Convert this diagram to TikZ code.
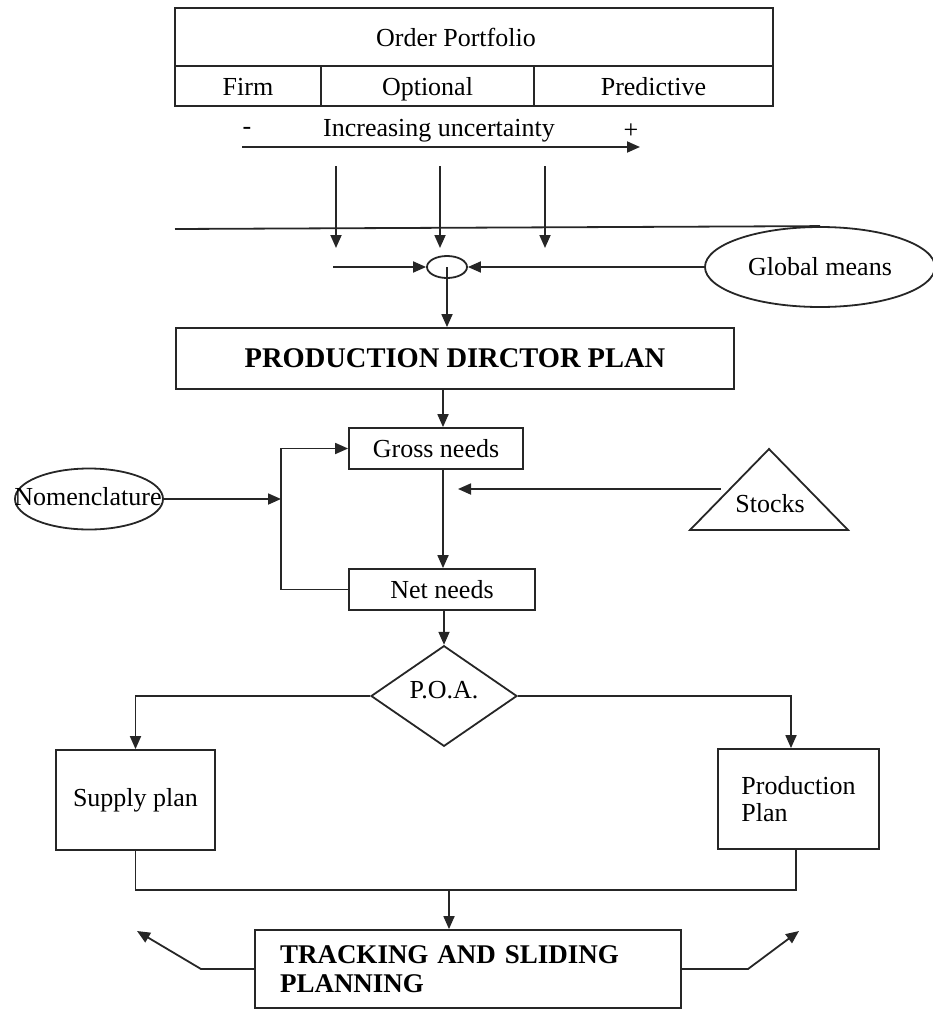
\documentclass[tikz,border=0pt]{standalone}
\usepackage{fontspec}
\setmainfont{Liberation Serif}
\usetikzlibrary{arrows.meta,shapes.geometric,calc}
\begin{document}
\begin{tikzpicture}[x=1pt,y=-1pt,
  every node/.style={font=\fontsize{26}{27}\selectfont, text=black},
  ln/.style={line width=1.8pt, draw=black!85},
  arr/.style={ln, -{Triangle[length=13pt,width=11pt]}},
  box/.style={ln, rectangle, inner sep=0pt},
  cell/.style={box, text height=18pt, text depth=0pt},
  bold/.style={font=\fontsize{27}{29}\selectfont\bfseries},
  oval/.style={ln, ellipse, inner sep=0pt}
]
\useasboundingbox (0,0) rectangle (933,1009);

% order portfolio table
\node[box, minimum width=598pt, minimum height=58pt] (head) at (474,37) {};
\node (headtxt) at (456,37) {Order Portfolio};
\node[cell, minimum width=146pt, minimum height=40pt] (firm) at (248,86) {Firm};
\node[cell, minimum width=213pt, minimum height=40pt] (opt) at (427.5,86) {Optional};
\node[cell, minimum width=239pt, minimum height=40pt] (pred) at (653.5,86) {Predictive};

% uncertainty
\node (minus) at (247,131) {-};
\node (unc) at (439,131) {Increasing uncertainty};
\node (plus) at (631,131) {+};
\coordinate (ua) at (242,147);
\coordinate (ub) at (640,147);
\draw[arr] (ua) -- (ub);

% vertical arrows
\foreach \i/\x in {1/336,2/440,3/545}{
  \coordinate (va\i) at (\x,166);
  \coordinate (vb\i) at (\x,248);
  \draw[arr] (va\i) -- (vb\i);
}

% global means and junction
\node[oval, minimum width=230pt, minimum height=80pt] (gm) at (820,267) {Global means};
\coordinate (hl) at (175,229);
\draw[ln] (hl) -- (gm.north);
\node[oval, minimum width=40pt, minimum height=22pt] (sum) at (447,267) {};
\coordinate (sl) at (333,267);
\draw[arr] (sl) -- (sum.west);
\draw[arr] (gm.west) -- (sum.east);

% production director plan
\node[box, font=\fontsize{28.5}{30}\selectfont\bfseries, minimum width=558pt, minimum height=61pt] (pdp) at (455,358.5) {PRODUCTION DIRCTOR PLAN};
\draw[arr] (sum.center) -- (pdp.north -| sum.center);

% needs
\node[box, minimum width=174pt, minimum height=41pt] (gross) at (436,448.5) {Gross needs};
\node[box, minimum width=186pt, minimum height=41pt] (net) at (442,589.5) {Net needs};
\coordinate (sp) at (443,0);
\draw[arr] (pdp.south -| sp) -- (gross.north -| sp);
\draw[arr] (gross.south -| sp) -- (net.north -| sp);

% nomenclature
\node[oval, minimum width=148pt, minimum height=61pt] (nom) at (89,499) {};
\node (nomt) at (88,497) {Nomenclature};
\coordinate (loop) at (281,0);
\draw[arr] (net.west) -- (net.west -| loop) |- (gross.west);
\draw[arr] (nom.east) -- (nom.east -| loop);

% stocks
\coordinate (s1) at (769,449);
\coordinate (s2) at (690,530);
\coordinate (s3) at (848,530);
\draw[ln, line join=miter] (s1) -- (s2) -- (s3) -- cycle;
\node (stk) at (770,504) {Stocks};
\coordinate (sa) at (721,489);
\coordinate (sb) at (458,489);
\draw[arr] (sa) -- (sb);

% P.O.A.
\node[ln, diamond, minimum width=146pt, minimum height=98pt, inner sep=0pt, text height=18pt, text depth=14pt] (poa) at (444,696) {P.O.A.};
\draw[arr] (net.south -| poa.north) -- (poa.north);

% plans
\node[box, minimum width=159pt, minimum height=100pt] (sup) at (135.5,800) {Supply plan};
\node[box, minimum width=161pt, minimum height=100pt, align=left] (prod) at (798.5,799) {Production\\Plan};
\coordinate (pr) at (791,0);
\coordinate (pb) at (796,0);
\draw[arr] (poa.west) -| (sup.north);
\draw[arr] (poa.east) -| (prod.north -| pr);

% tracking
\node[box, bold, minimum width=426pt, minimum height=78pt, text width=376pt, align=left, inner xsep=25pt] (trk) at (468,969) {TRACKING AND SLIDING\\PLANNING};
\coordinate (bl) at (0,890);
\coordinate (tx) at (449,0);
\draw[ln] (sup.south) -- (sup.south |- bl) -- (bl -| pb) -- (prod.south -| pb);
\draw[arr] (bl -| tx) -- (trk.north -| tx);

\coordinate (la) at (201,0);
\coordinate (lt) at (137,931);
\draw[arr] (trk.west) -- (trk.west -| la) -- (lt);
\coordinate (ra) at (748,0);
\coordinate (rt) at (799,931);
\draw[arr] (trk.east) -- (trk.east -| ra) -- (rt);
\end{tikzpicture}
\end{document}
